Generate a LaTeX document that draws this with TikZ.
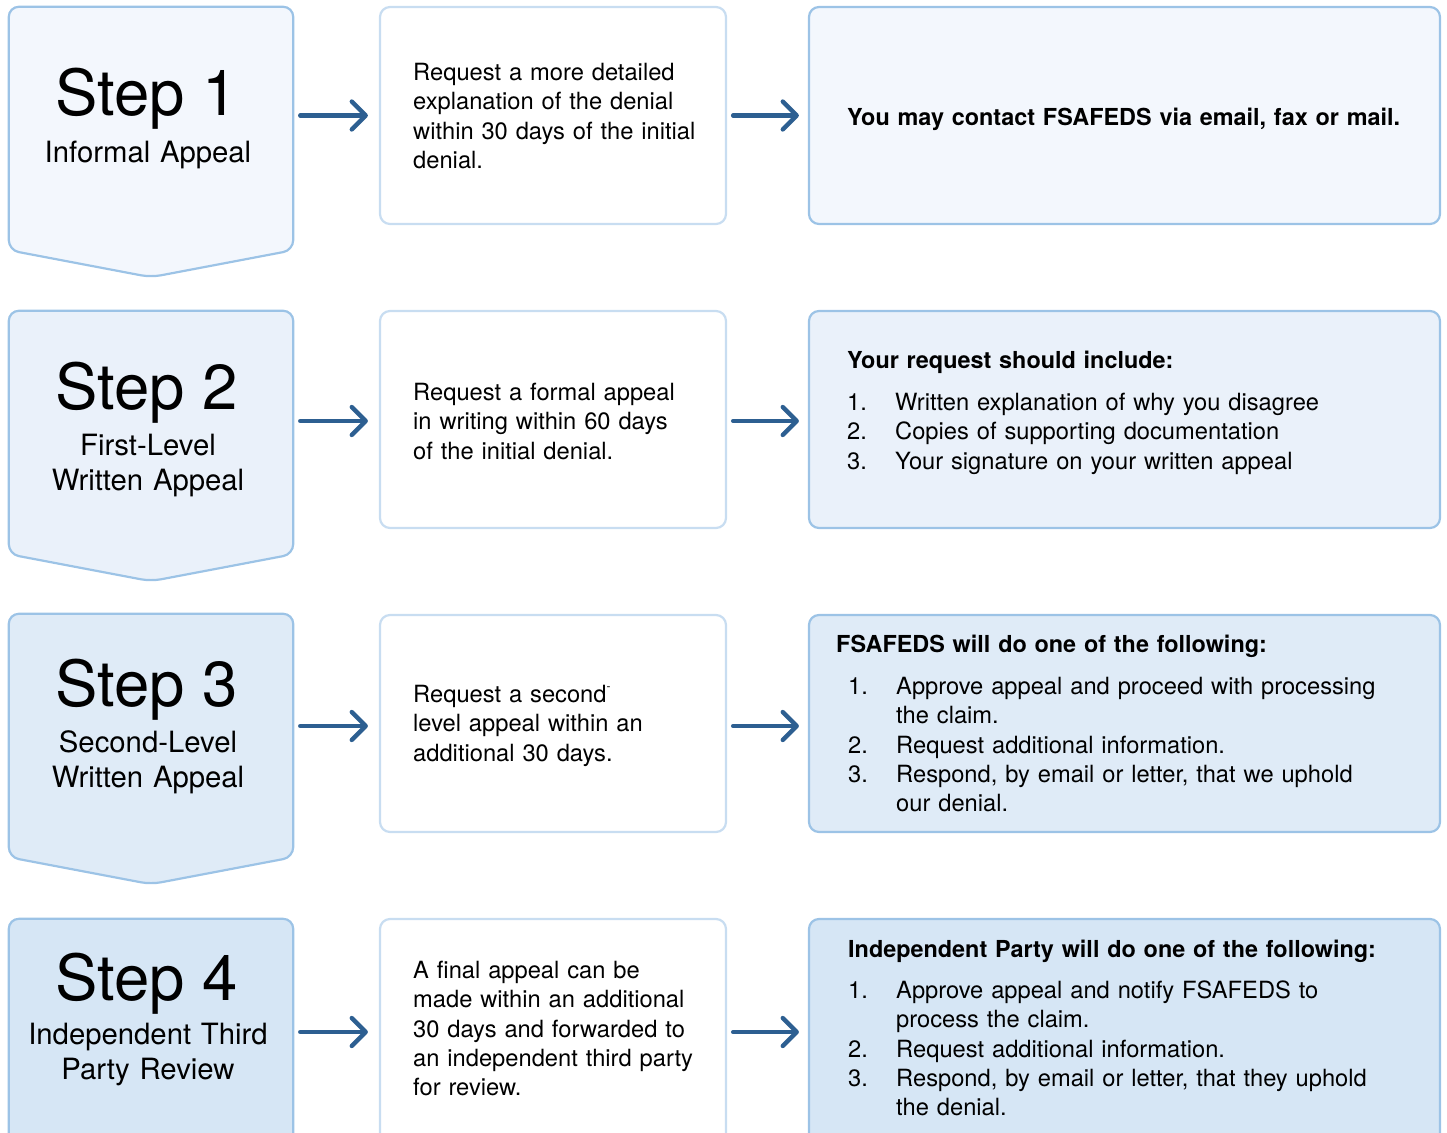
\documentclass[tikz,border=0pt]{standalone}
\usepackage{fontspec}
\setmainfont{TeX Gyre Heros}
\usetikzlibrary{arrows.meta}
\definecolor{fillA}{HTML}{F3F7FD}
\definecolor{fillB}{HTML}{EAF1FA}
\definecolor{fillC}{HTML}{DFEBF7}
\definecolor{fillD}{HTML}{D6E6F5}
\definecolor{edgeblue}{HTML}{9CC3E6}
\definecolor{edgelight}{HTML}{C8DDF1}
\definecolor{arrowblue}{HTML}{2D5F91}
\newcommand\litem[2]{\hangindent=48pt\hangafter=1\noindent\makebox[48pt][l]{#1}#2\par}
\begin{document}
\begin{tikzpicture}[x=1pt,y=-1pt,
  stepframe/.style={draw=none, inner sep=0pt, minimum width=284pt, minimum height=243pt},
  stepshape/.style={draw=edgeblue, line width=2.2pt, rounded corners=10pt},
  midbox/.style={draw=edgelight, fill=white, line width=2.2pt, rounded corners=10pt, minimum width=346pt, minimum height=217pt, inner sep=0pt},
  rightbox/.style={draw=edgeblue, line width=2.2pt, rounded corners=10pt, minimum width=631pt, minimum height=217pt, inner sep=0pt},
  arr/.style={draw=arrowblue, line width=4.3pt, line cap=round, -{Straight Barb[length=14pt, width=28pt, round]}},
  steptitle/.style={anchor=base, inner sep=0pt, font=\fontsize{63.5}{70}\selectfont},
  stepsub/.style={anchor=base, inner sep=0pt, text width=280pt, align=center, font=\fontsize{29.3}{35}\selectfont},
  body/.style={anchor=base west, inner sep=0pt, text width=#1, align=left, font=\fontsize{23.7}{29.3}\selectfont},
  body/.default=320pt,
  head/.style={anchor=base west, inner sep=0pt, text width=600pt, align=left, font=\fontsize{23.4}{29.3}\selectfont\bfseries}
]
\useasboundingbox (0,0) rectangle (1447,1132);
\clip (0,0) rectangle (1447,1132);

% ---------- Row 1 ----------
\node[stepframe] (s1) at (151,128.5) {};
\draw[stepshape, fill=fillA] ([yshift=-27pt]s1.south) -- (s1.south west) -- (s1.north west) -- (s1.north east) -- (s1.south east) -- cycle;
\node[midbox] (m1) at (553,115.5) {};
\node[rightbox, fill=fillA] (r1) at (1124.5,115.5) {};
\node[steptitle] (s1t) at (147,115) {Step 1};
\node[stepsub] (s1s) at (148,162.5) {Informal Appeal};
\node[body] (m1t) at (413,80.5) {Request a more detailed\\explanation of the denial\\within 30 days of the initial\\denial.};
\node[head] (r1t) at (847,125.5) {You may contact FSAFEDS via email, fax or mail.};
\draw[arr, shorten <=7pt, shorten >=11pt] (s1.east |- m1.west) -- (m1.west);
\draw[arr, shorten <=6pt, shorten >=9pt] (m1.east) -- (r1.west);

% ---------- Row 2 ----------
\node[stepframe] (s2) at (151,432.5) {};
\draw[stepshape, fill=fillB] ([yshift=-27pt]s2.south) -- (s2.south west) -- (s2.north west) -- (s2.north east) -- (s2.south east) -- cycle;
\node[midbox] (m2) at (553,419.5) {};
\node[rightbox, fill=fillB] (r2) at (1124.5,419.5) {};
\node[steptitle] (s2t) at (147,409) {Step 2};
\node[stepsub] (s2s) at (148,455.5) {First-Level\\Written Appeal};
\node[body] (m2t) at (413,400.5) {Request a formal appeal\\in writing within 60 days\\of the initial denial.};
\node[head] (r2h) at (847,368.5) {Your request should include:};
\node[body=590pt] (r2l) at (847,410.5) {\litem{1.}{Written explanation of why you disagree}\litem{2.}{Copies of supporting documentation}\litem{3.}{Your signature on your written appeal}};
\draw[arr, shorten <=7pt, shorten >=11pt] ([yshift=-1.5pt]s2.east |- m2.west) -- ([yshift=-1.5pt]m2.west);
\draw[arr, shorten <=6pt, shorten >=9pt] ([yshift=-1.5pt]m2.east) -- ([yshift=-1.5pt]r2.west);

% ---------- Row 3 ----------
\node[stepframe] (s3) at (151,735.5) {};
\draw[stepshape, fill=fillC] ([yshift=-27pt]s3.south) -- (s3.south west) -- (s3.north west) -- (s3.north east) -- (s3.south east) -- cycle;
\node[midbox] (m3) at (553,723.5) {};
\node[rightbox, fill=fillC] (r3) at (1124.5,723.5) {};
\node[steptitle] (s3t) at (147,706) {Step 3};
\node[stepsub] (s3s) at (148,752.5) {Second-Level\\Written Appeal};
\node[body] (m3t) at (413,702.5) {Request a second\raisebox{0.5em}{\scalebox{0.5}{-}}\\level appeal within an\\additional 30 days.};
\node[head] (r3h) at (836,652.5) {FSAFEDS will do one of the following:};
\node[body=590pt] (r3l) at (848,694.5) {\litem{1.}{Approve appeal and proceed with processing\newline the claim.}\litem{2.}{Request additional information.}\litem{3.}{Respond, by email or letter, that we uphold\newline our denial.}};
\draw[arr, shorten <=7pt, shorten >=11pt] ([yshift=-2.5pt]s3.east |- m3.west) -- ([yshift=-2.5pt]m3.west);
\draw[arr, shorten <=6pt, shorten >=9pt] ([yshift=-2.5pt]m3.east) -- ([yshift=-2.5pt]r3.west);

% ---------- Row 4 ----------
\node[stepframe] (s4) at (151,1040.5) {};
\draw[stepshape, fill=fillD] ([yshift=-27pt]s4.south) -- (s4.south west) -- (s4.north west) -- (s4.north east) -- (s4.south east) -- cycle;
\node[midbox, minimum height=226pt] (m4) at (553,1032) {};
\node[rightbox, fill=fillD, minimum height=226pt] (r4) at (1124.5,1032) {};
\node[steptitle] (s4t) at (147,1000) {Step 4};
\node[stepsub] (s4s) at (148,1044.5) {Independent Third\\Party Review};
\node[body] (m4t) at (413,978.5) {A final appeal can be\\made within an additional\\30 days and forwarded to\\an independent third party\\for review.};
\node[head] (r4h) at (848,957.5) {Independent Party will do one of the following:};
\node[body=590pt] (r4l) at (848,998.5) {\litem{1.}{Approve appeal and notify FSAFEDS to\newline process the claim.}\litem{2.}{Request additional information.}\litem{3.}{Respond, by email or letter, that they uphold\newline the denial.}};
\draw[arr, shorten <=7pt, shorten >=11pt] (s4.east |- m4.west) -- (m4.west);
\draw[arr, shorten <=6pt, shorten >=9pt] (m4.east) -- (r4.west);
\end{tikzpicture}
\end{document}
